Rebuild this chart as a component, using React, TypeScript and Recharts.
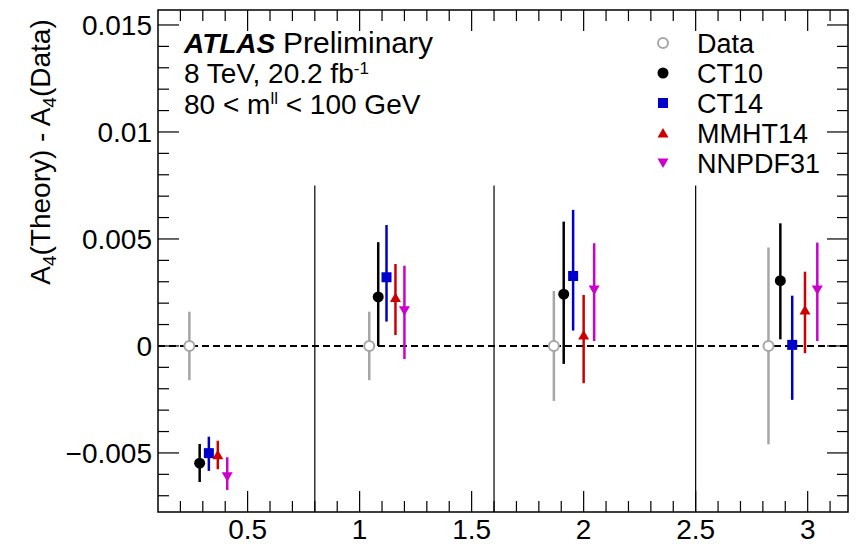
import React from "react";
import {
  ErrorBar,
  ReferenceArea,
  ReferenceLine,
  Scatter,
  ScatterChart,
  XAxis,
  YAxis,
} from "recharts";

const W = 856;
const H = 536;
const PLOT = { left: 150, right: 840, top: 2, bottom: 504 };
const FONT = '"Liberation Sans", Arial, Helvetica, sans-serif';

const X_DOMAIN: [number, number] = [0.1, 3.18];
const Y_DOMAIN: [number, number] = [-0.00776, 0.0157];

// axis ticks
const xMajor = [0.5, 1, 1.5, 2, 2.5, 3];
const xLabels = ["0.5", "1", "1.5", "2", "2.5", "3"];
const yMajor = [-0.005, 0, 0.005, 0.01, 0.015];
const yLabels = ["\u22120.005", "0", "0.005", "0.01", "0.015"];

const steps = (from: number, to: number, step: number) => {
  const out: number[] = [];
  for (let i = 0; from + i * step <= to + 1e-12; i++) {
    out.push(Math.round((from + i * step) * 1e6) / 1e6);
  }
  return out;
};
const xTicks = steps(0.2, 3.1, 0.1);
const yTicks = steps(-0.007, 0.015, 0.001);

// bin boundaries
const binEdges = [0.8, 1.6, 2.5];
const binLineTop = 0.0075;

// Data
const dataX = [0.24, 1.043, 1.867, 2.825];
const dataY = [0, 0, 0, 0];
const dataLo = [0.0016, 0.0016, 0.00257, 0.0046];
const dataHi = [0.0016, 0.0016, 0.00257, 0.0046];

// CT10
const ct10X = [0.286, 1.083, 1.911, 2.878];
const ct10Y = [-0.00548, 0.00229, 0.00242, 0.00305];
const ct10Lo = [0.00088, 0.00229, 0.00326, 0.00274];
const ct10Hi = [0.0009, 0.00256, 0.00339, 0.00268];

// CT14
const ct14X = [0.327, 1.12, 1.953, 2.931];
const ct14Y = [-0.00501, 0.00321, 0.00327, 0.00005];
const ct14Lo = [0.00083, 0.00207, 0.00255, 0.00257];
const ct14Hi = [0.00077, 0.00244, 0.00309, 0.0023];

// MMHT14
const mmhtX = [0.367, 1.16, 2.0, 2.988];
const mmhtY = [-0.00509, 0.00226, 0.00051, 0.00168];
const mmhtLo = [0.00067, 0.00175, 0.00225, 0.00202];
const mmhtHi = [0.00066, 0.00157, 0.00187, 0.00179];

// NNPDF31
const nnpdfX = [0.409, 1.2, 2.047, 3.043];
const nnpdfY = [-0.00611, 0.00164, 0.00262, 0.00262];
const nnpdfLo = [0.00062, 0.00225, 0.00239, 0.00239];
const nnpdfHi = [0.00091, 0.00211, 0.00218, 0.00221];

const rows = (x: number[], y: number[], lo: number[], hi: number[]) =>
  x.map((v, i) => ({ x: v, y: y[i], err: [lo[i], hi[i]] }));

const OpenCircle = ({ cx, cy }: any) => (
  <circle cx={cx} cy={cy} r={5} fill="#fff" stroke="#a6a6a6" strokeWidth={2} />
);
const Dot = ({ cx, cy, fill }: any) => <circle cx={cx} cy={cy} r={5.5} fill={fill} />;
const Square = ({ cx, cy, fill }: any) => (
  <rect x={cx - 5} y={cy - 5} width={10} height={10} fill={fill} />
);
const TriUp = ({ cx, cy, fill }: any) => (
  <polygon
    points={`${cx - 5.5},${cy + 4.5} ${cx + 5.5},${cy + 4.5} ${cx},${cy - 5}`}
    fill={fill}
  />
);
const TriDown = ({ cx, cy, fill }: any) => (
  <polygon
    points={`${cx - 5.5},${cy - 4.5} ${cx + 5.5},${cy - 4.5} ${cx},${cy + 5}`}
    fill={fill}
  />
);

const series = [
  { name: "Data", color: "#a6a6a6", Shape: OpenCircle, data: rows(dataX, dataY, dataLo, dataHi) },
  { name: "CT10", color: "#000000", Shape: Dot, data: rows(ct10X, ct10Y, ct10Lo, ct10Hi) },
  { name: "CT14", color: "#0000cc", Shape: Square, data: rows(ct14X, ct14Y, ct14Lo, ct14Hi) },
  { name: "MMHT14", color: "#cc0000", Shape: TriUp, data: rows(mmhtX, mmhtY, mmhtLo, mmhtHi) },
  { name: "NNPDF31", color: "#cc00cc", Shape: TriDown, data: rows(nnpdfX, nnpdfY, nnpdfLo, nnpdfHi) },
];

const majorIndex = (list: number[], v: number) =>
  list.findIndex((m) => Math.abs(m - v) < 1e-9);

// ROOT-style ticks: pointing inward, mirrored on the opposite side
const XTick = (props: any) => {
  const { x, payload } = props;
  const idx = majorIndex(xMajor, payload.value);
  const len = idx >= 0 ? 21 : 11;
  return (
    <g>
      <line x1={x} x2={x} y1={PLOT.bottom} y2={PLOT.bottom - len} stroke="#000" strokeWidth={1.2} />
      <line x1={x} x2={x} y1={PLOT.top} y2={PLOT.top + len} stroke="#000" strokeWidth={1.2} />
      {idx >= 0 && (
        <text x={x} y={PLOT.bottom + 27} textAnchor="middle" fontSize={28} fontFamily={FONT} fill="#000">
          {xLabels[idx]}
        </text>
      )}
    </g>
  );
};

const YTick = (props: any) => {
  const { y, payload } = props;
  const idx = majorIndex(yMajor, payload.value);
  const len = idx >= 0 ? 21 : 11;
  return (
    <g>
      <line x1={PLOT.left} x2={PLOT.left + len} y1={y} y2={y} stroke="#000" strokeWidth={1.2} />
      <line x1={PLOT.right} x2={PLOT.right - len} y1={y} y2={y} stroke="#000" strokeWidth={1.2} />
      {idx >= 0 && (
        <text x={PLOT.left - 6} y={y} dy="0.36em" textAnchor="end" fontSize={28} fontFamily={FONT} fill="#000">
          {yLabels[idx]}
        </text>
      )}
    </g>
  );
};

const Overlay = () => (
  <svg
    width={W}
    height={H}
    style={{ position: "absolute", left: 0, top: 0, pointerEvents: "none" }}
    fontFamily={FONT}
  >
    <text x={42} y={144} transform="rotate(-90 42 144)" textAnchor="middle" fontSize={28}>
      A<tspan fontSize={19} dy={6}>4</tspan>
      <tspan dy={-6}>(Theory) - A</tspan>
      <tspan fontSize={19} dy={6}>4</tspan>
      <tspan dy={-6}>(Data)</tspan>
    </text>

    <text x={176} y={45} fontSize={28} fontWeight="bold" fontStyle="italic">
      ATLAS
    </text>
    <text x={275} y={45} fontSize={30}>
      Preliminary
    </text>
    <text x={176} y={75} fontSize={28}>
      8 TeV, 20.2 fb<tspan fontSize={17} dy={-9}>-1</tspan>
    </text>
    <text x={176} y={106} fontSize={28}>
      80 &lt; m<tspan fontSize={17} dy={-10}>ll</tspan>
      <tspan dy={10}> &lt; 100 GeV</tspan>
    </text>

    {series.map((s, i) => {
      const cy = 35 + i * 30;
      const Shape = s.Shape;
      return (
        <g key={s.name}>
          <Shape cx={655} cy={cy} fill={s.color} />
          <text x={689} y={cy + 10} fontSize={27}>
            {s.name}
          </text>
        </g>
      );
    })}
  </svg>
);

export default function App() {
  return (
    <div style={{ position: "relative", width: W, height: H, background: "#fff" }}>
      <ScatterChart
        width={W}
        height={H}
        margin={{ top: PLOT.top, right: W - PLOT.right, bottom: 0, left: 0 }}
      >
        <XAxis
          type="number"
          dataKey="x"
          domain={X_DOMAIN}
          allowDataOverflow
          ticks={xTicks}
          interval={0}
          height={H - PLOT.bottom}
          axisLine={false}
          tickLine={false}
          tick={<XTick />}
        />
        <YAxis
          type="number"
          dataKey="y"
          domain={Y_DOMAIN}
          allowDataOverflow
          ticks={yTicks}
          interval={0}
          width={PLOT.left}
          axisLine={false}
          tickLine={false}
          tick={<YTick />}
        />
        <ReferenceArea
          x1={X_DOMAIN[0]}
          x2={X_DOMAIN[1]}
          y1={Y_DOMAIN[0]}
          y2={Y_DOMAIN[1]}
          fill="none"
          fillOpacity={0}
          stroke="#000"
          strokeWidth={1.5}
        />
        {binEdges.map((e) => (
          <ReferenceLine
            key={e}
            segment={[
              { x: e, y: binLineTop },
              { x: e, y: Y_DOMAIN[0] },
            ]}
            stroke="#000"
            strokeWidth={1.2}
          />
        ))}
        <ReferenceLine y={0} stroke="#000" strokeWidth={2} strokeDasharray="7 4" />
        {series.map((s) => (
          <Scatter
            key={s.name}
            name={s.name}
            data={s.data}
            fill={s.color}
            shape={<s.Shape fill={s.color} />}
            isAnimationActive={false}
          >
            <ErrorBar
              dataKey="err"
              direction="y"
              width={0}
              stroke={s.color}
              strokeWidth={2.5}
              isAnimationActive={false}
            />
          </Scatter>
        ))}
      </ScatterChart>
      <Overlay />
    </div>
  );
}
